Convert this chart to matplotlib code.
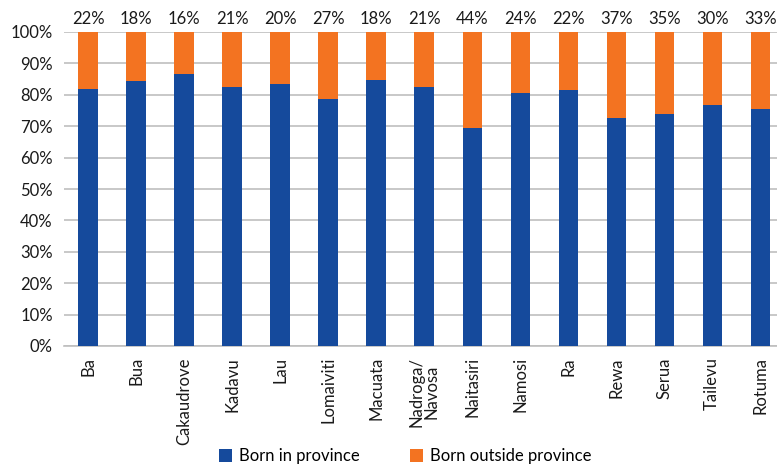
import matplotlib
matplotlib.use("Agg")
import matplotlib.pyplot as plt
from matplotlib.ticker import FuncFormatter
import numpy as np

provinces = ["Ba", "Bua", "Cakaudrove", "Kadavu", "Lau", "Lomaiviti", "Macuata",
             "Nadroga/\nNavosa", "Naitasiri", "Namosi", "Ra", "Rewa", "Serua",
             "Tailevu", "Rotuma"]
born_in = [81.9, 84.3, 86.6, 82.4, 83.3, 78.7, 84.8, 82.4, 69.5, 80.7, 81.5,
           72.7, 74.0, 76.8, 75.5]
born_out = [100 - v for v in born_in]
top_labels = ["22%", "18%", "16%", "21%", "20%", "27%", "18%", "21%", "44%",
              "24%", "22%", "37%", "35%", "30%", "33%"]

plt.rcParams['font.family'] = ['Lato', 'DejaVu Sans']

BLUE = "#154A9C"
ORANGE = "#F37321"

fig = plt.figure(figsize=(7.77, 4.66), dpi=100)
ax = fig.add_axes([64/777, (466-346)/466, (777-64)/777, (346-32)/466])

x = np.arange(len(provinces))
w = 0.4
ax.bar(x, born_in, w, color=BLUE, label="Born in province", zorder=3)
ax.bar(x, born_out, w, bottom=born_in, color=ORANGE, label="Born outside province", zorder=3)

for xi, lab in zip(x, top_labels):
    ax.text(xi, 101.5, lab, ha="center", va="bottom", fontsize=12, color="#1a1a1a")

ax.set_ylim(0, 100)
ax.set_xlim(-0.5, 14.35)
ax.set_yticks(np.arange(0, 101, 10))
ax.yaxis.set_major_formatter(FuncFormatter(lambda v, p: f"{int(v)}%"))
ax.set_xticks(x)
ax.set_xticklabels(provinces, rotation=90, fontsize=12, linespacing=0.9)
ax.tick_params(axis="y", labelsize=12, length=0, pad=8, colors="#1a1a1a")
ax.tick_params(axis="x", length=0, pad=8, colors="#1a1a1a")
ax.grid(axis="y", color="#BFBFBF", linewidth=1.2, zorder=0)
for s in ["top", "right", "left"]:
    ax.spines[s].set_visible(False)
ax.spines["bottom"].set_color("#BFBFBF")
ax.spines["bottom"].set_linewidth(1.2)

fig.legend(loc="center", bbox_to_anchor=(405/777, 1 - 456/466), ncol=2, frameon=False,
           fontsize=12, handlelength=0.8, handleheight=0.8, columnspacing=3.0,
           handletextpad=0.4)

fig.savefig("out.png", dpi=100)
